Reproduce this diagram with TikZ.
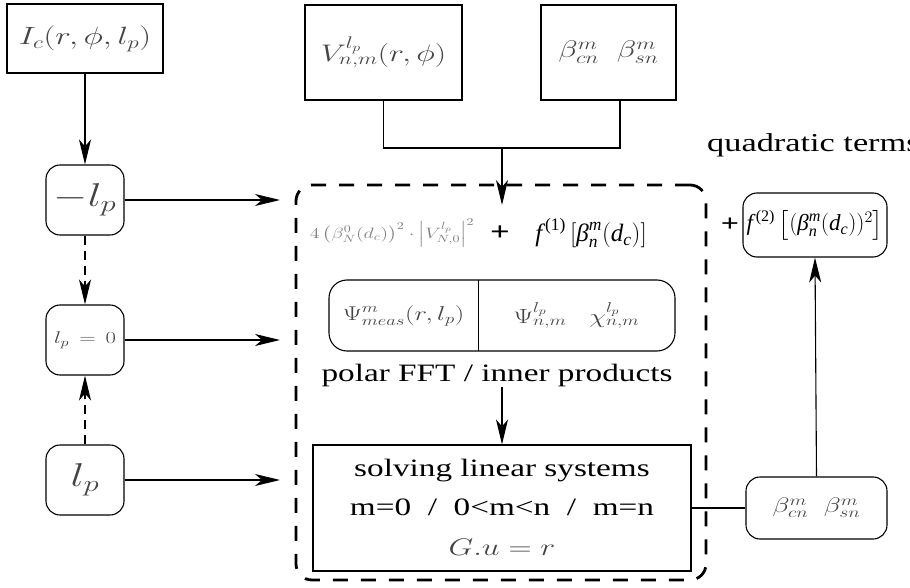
\RequirePackage{fix-cm}
\documentclass[tikz,border=0pt]{standalone}
\usepackage{amsmath}
\usepackage[no-math]{fontspec}
\setmainfont{Liberation Serif}
\usepackage{graphicx}
\usetikzlibrary{arrows.meta}
\definecolor{mgray}{gray}{0.27}
\definecolor{lgray}{gray}{0.5}
\newcommand\hx[1]{\scalebox{1.33}[1]{#1}}
\newcommand\fs[1]{\fontsize{#1}{#1}\selectfont}
\begin{document}
\begin{tikzpicture}[x=1pt,y=-1pt,
  sqbox/.style={draw,line width=1.1pt,inner sep=0pt},
  rbox/.style={sqbox,rounded corners=14pt},
  conn/.style={line width=1.1pt},
  arr/.style={conn,-{Stealth[length=25pt,width=12pt,inset=7pt]}},
  darr/.style={arr,dash pattern=on 9pt off 6pt},
  plain/.style={inner sep=0pt}]
\useasboundingbox (0,0) rectangle (910,588);

% top inputs
\node[sqbox,minimum width=156pt,minimum height=69pt] (Ic) at (85,38.5)
  {\hx{\fs{25}\color{mgray}$I_c(r,\phi,l_p)$}};
\node[sqbox,minimum width=157pt,minimum height=95pt] (V) at (383.5,52.5)
  {\hx{\fs{24}\color{mgray}$V^{l_p}_{n,m}(r,\phi)$}};
\node[sqbox,minimum width=135pt,minimum height=95pt] (Btop) at (608.5,52.5)
  {\hx{\fs{24}\color{mgray}$\beta^m_{cn}\;\;\beta^m_{sn}$}};

% left column
\node[rbox,minimum width=78pt,minimum height=70pt] (mlp) at (85,200)
  {\hx{\fs{33}\color{mgray}$-l_p$}};
\node[rbox,minimum width=78pt,minimum height=70pt] (lp0) at (85,340)
  {\hx{\fs{17}\color{mgray}$l_p\,=\,0$}};
\node[rbox,minimum width=78pt,minimum height=70pt] (lp) at (85,480)
  {\hx{\fs{33}\color{mgray}$l_p$}};

% dashed frame
\node[draw,line width=2.8pt,dash pattern=on 15pt off 13pt,rounded corners=16pt,
  minimum width=410pt,minimum height=395pt,inner sep=0pt] (outer) at (501,382.5) {};

% formula row
\node[plain] (form0) at (392,233)
  {\hx{\fs{15}\color{lgray}$4\left(\beta^0_N(d_c)\right)^2\cdot\left|V^{l_p}_{N,0}\right|^2$}};
\node[plain] (plus1) at (500,233) {\hx{\fs{26}\textbf{+}}};
\node[plain] (f1) at (591,233)
  {\fs{25}$\textit{f}^{\,\text{(1)}}\,[\textit{β}^{\textit{m}}_{\textit{n}}(\textit{d}_{\textit{c}})]$};

% Psi box
\node[draw,line width=1.1pt,rounded corners=18pt,minimum width=346pt,minimum height=71pt,inner sep=0pt] (psibox) at (502,315.5) {};
\node[plain,minimum width=149pt,minimum height=71pt] (psiA) at (403.5,315.5)
  {\hx{\fs{20}\color{mgray}$\Psi^m_{meas}(r,l_p)$}};
\node[plain,minimum width=197pt,minimum height=71pt] (psiB) at (576.5,315.5)
  {\hx{\fs{20.5}\color{mgray}$\Psi^{l_p}_{n,m}\;\;\;\chi^{l_p}_{n,m}$}};
\draw[line width=1pt] (psiA.north east) -- (psiA.south east);

\node[plain] (polar) at (497,375) {\hx{\fs{25}polar FFT / inner products}};

% solving box
\node[sqbox,minimum width=378pt,minimum height=126pt] (solve) at (502,508)
  {\hx{\fontsize{25}{39.5}\selectfont\begin{tabular}{@{}c@{}}solving linear systems\\
   m=0 \ / \ 0<m<n \ / \ m=n\\ {\fs{24}\color{mgray}$G.u=r$}\end{tabular}}};

% right side
\node[rbox,minimum width=141pt,minimum height=62pt] (Bright) at (816.5,508)
  {\hx{\fs{21}\color{mgray}$\beta^m_{cn}\;\;\beta^m_{sn}$}};
\node[rbox,minimum width=144pt,minimum height=64pt] (f2) at (815,225)
  {\fs{23}$\textit{f}^{\,\text{(2)}}\left[(\textit{β}^{\textit{m}}_{\textit{n}}(\textit{d}_{\textit{c}}))^2\right]$};
\node[plain] (plus2) at (730,225) {\hx{\fs{24}\textbf{+}}};
\node[plain,anchor=west] (quad) at (707,145) {\hx{\fs{25.8}quadratic terms}};

% connectors
\coordinate (e1) at (280,200);
\coordinate (e2) at (280,340);
\coordinate (e3) at (280,480);
\coordinate (j) at (502,148);
\coordinate (jt) at (502,205);

\draw[arr] (Ic.south) -- (mlp.north);
\draw[darr] (mlp.south) -- (lp0.north);
\draw[darr] (lp.north) -- (lp0.south);
\draw[arr] (mlp.east) -- (e1);
\draw[arr] (lp0.east) -- (e2);
\draw[arr] (lp.east) -- (e3);

\draw[conn] (V.south) |- (j);
\draw[conn] ([xshift=11.5pt]Btop.south) |- (j);
\draw[arr] (j) -- (jt);

\draw[arr] (solve.north |- polar.south) -- (solve.north);
\draw[conn] (solve.east |- Bright.west) -- (Bright.west);
\draw[arr] (Bright.north) -- (f2.south);
\end{tikzpicture}
\end{document}
